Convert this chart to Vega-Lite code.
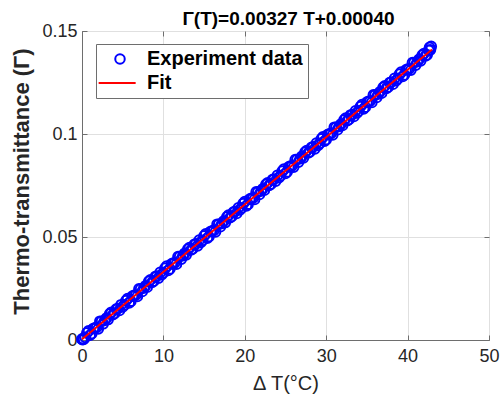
{
  "$schema": "https://vega.github.io/schema/vega-lite/v6.json",
  "width": 407,
  "height": 309,
  "autosize": {"type": "none"},
  "padding": {"left": 82, "top": 31, "right": 15, "bottom": 61},
  "background": "white",
  "config": {
    "font": "Liberation Sans",
    "view": {"stroke": "#6e6e6e", "strokeWidth": 1},
    "axis": {
      "labelFont": "Liberation Sans",
      "labelFontSize": 18,
      "labelColor": "#262626",
      "titleColor": "#262626",
      "titleFont": "Liberation Sans",
      "gridColor": "#e0e0e0",
      "gridWidth": 1,
      "domainColor": "#6e6e6e",
      "tickColor": "#6e6e6e",
      "tickSize": -5
    }
  },
  "title": {
    "text": "Γ(T)=0.00327 T+0.00040",
    "font": "Liberation Sans",
    "fontSize": 19,
    "fontWeight": "bold",
    "color": "#000000",
    "offset": -7,
    "frame": "group",
    "dx": 3
  },
  "datasets": {
    "pts": [
      {"T":0,"G":0.0004},{"T":0.05,"G":0.0002},{"T":0.1,"G":0.0007},{"T":0.2,"G":0.00035},
      {"T":0.4,"G":0.00131},{"T":0.6,"G":0.00346},{"T":0.8,"G":0.00442},{"T":1,"G":0.00237},
      {"T":1.2,"G":0.00312},{"T":1.4,"G":0.00558},{"T":1.6,"G":0.00593},{"T":1.8,"G":0.00609},
      {"T":2,"G":0.00544},{"T":2.2,"G":0.00909},{"T":2.4,"G":0.00905},{"T":2.6,"G":0.0079},
      {"T":2.8,"G":0.00956},{"T":3,"G":0.01061},{"T":3.2,"G":0.00996},{"T":3.4,"G":0.01272},
      {"T":3.6,"G":0.01347},{"T":3.8,"G":0.01233},{"T":4,"G":0.01288},{"T":4.2,"G":0.01503},
      {"T":4.4,"G":0.01529},{"T":4.6,"G":0.01434},{"T":4.8,"G":0.0171},{"T":5,"G":0.01605},
      {"T":5.2,"G":0.017},{"T":5.4,"G":0.01916},{"T":5.6,"G":0.02011},{"T":5.8,"G":0.01807},
      {"T":6,"G":0.01882},{"T":6.2,"G":0.02127},{"T":6.4,"G":0.02163},{"T":6.6,"G":0.02178},
      {"T":6.8,"G":0.02114},{"T":7,"G":0.02479},{"T":7.2,"G":0.02474},{"T":7.4,"G":0.0236},
      {"T":7.6,"G":0.02525},{"T":7.8,"G":0.02631},{"T":8,"G":0.02566},{"T":8.2,"G":0.02841},
      {"T":8.4,"G":0.02917},{"T":8.6,"G":0.02802},{"T":8.8,"G":0.02858},{"T":9,"G":0.03073},
      {"T":9.2,"G":0.03098},{"T":9.4,"G":0.03004},{"T":9.6,"G":0.03279},{"T":9.8,"G":0.03175},
      {"T":10,"G":0.0327},{"T":10.2,"G":0.03485},{"T":10.4,"G":0.03581},{"T":10.6,"G":0.03376},
      {"T":10.8,"G":0.03452},{"T":11,"G":0.03697},{"T":11.2,"G":0.03732},{"T":11.4,"G":0.03748},
      {"T":11.6,"G":0.03683},{"T":11.8,"G":0.04049},{"T":12,"G":0.04044},{"T":12.2,"G":0.03929},
      {"T":12.4,"G":0.04095},{"T":12.6,"G":0.042},{"T":12.8,"G":0.04136},{"T":13,"G":0.04411},
      {"T":13.2,"G":0.04486},{"T":13.4,"G":0.04372},{"T":13.6,"G":0.04427},{"T":13.8,"G":0.04643},
      {"T":14,"G":0.04668},{"T":14.2,"G":0.04573},{"T":14.4,"G":0.04849},{"T":14.6,"G":0.04744},
      {"T":14.8,"G":0.0484},{"T":15,"G":0.05055},{"T":15.2,"G":0.0515},{"T":15.4,"G":0.04946},
      {"T":15.6,"G":0.05021},{"T":15.8,"G":0.05267},{"T":16,"G":0.05302},{"T":16.2,"G":0.05317},
      {"T":16.4,"G":0.05253},{"T":16.6,"G":0.05618},{"T":16.8,"G":0.05614},{"T":17,"G":0.05499},
      {"T":17.2,"G":0.05664},{"T":17.4,"G":0.0577},{"T":17.6,"G":0.05705},{"T":17.8,"G":0.05981},
      {"T":18,"G":0.06056},{"T":18.2,"G":0.05941},{"T":18.4,"G":0.05997},{"T":18.6,"G":0.06212},
      {"T":18.8,"G":0.06238},{"T":19,"G":0.06143},{"T":19.2,"G":0.06418},{"T":19.4,"G":0.06314},
      {"T":19.6,"G":0.06409},{"T":19.8,"G":0.06625},{"T":20,"G":0.0672},{"T":20.2,"G":0.06515},
      {"T":20.4,"G":0.06591},{"T":20.6,"G":0.06836},{"T":20.8,"G":0.06872},{"T":21,"G":0.06887},
      {"T":21.2,"G":0.06822},{"T":21.4,"G":0.07188},{"T":21.6,"G":0.07183},{"T":21.8,"G":0.07069},
      {"T":22,"G":0.07234},{"T":22.2,"G":0.07339},{"T":22.4,"G":0.07275},{"T":22.6,"G":0.0755},
      {"T":22.8,"G":0.07626},{"T":23,"G":0.07511},{"T":23.2,"G":0.07566},{"T":23.4,"G":0.07782},
      {"T":23.6,"G":0.07807},{"T":23.8,"G":0.07713},{"T":24,"G":0.07988},{"T":24.2,"G":0.07883},
      {"T":24.4,"G":0.07979},{"T":24.6,"G":0.08194},{"T":24.8,"G":0.0829},{"T":25,"G":0.08085},
      {"T":25.2,"G":0.0816},{"T":25.4,"G":0.08406},{"T":25.6,"G":0.08441},{"T":25.8,"G":0.08457},
      {"T":26,"G":0.08392},{"T":26.2,"G":0.08757},{"T":26.4,"G":0.08753},{"T":26.6,"G":0.08638},
      {"T":26.8,"G":0.08804},{"T":27,"G":0.08909},{"T":27.2,"G":0.08844},{"T":27.4,"G":0.0912},
      {"T":27.6,"G":0.09195},{"T":27.8,"G":0.09081},{"T":28,"G":0.09136},{"T":28.2,"G":0.09351},
      {"T":28.4,"G":0.09377},{"T":28.6,"G":0.09282},{"T":28.8,"G":0.09558},{"T":29,"G":0.09453},
      {"T":29.2,"G":0.09548},{"T":29.4,"G":0.09764},{"T":29.6,"G":0.09859},{"T":29.8,"G":0.09655},
      {"T":30,"G":0.0973},{"T":30.2,"G":0.09975},{"T":30.4,"G":0.10011},{"T":30.6,"G":0.10026},
      {"T":30.8,"G":0.09962},{"T":31,"G":0.10327},{"T":31.2,"G":0.10322},{"T":31.4,"G":0.10208},
      {"T":31.6,"G":0.10373},{"T":31.8,"G":0.10479},{"T":32,"G":0.10414},{"T":32.2,"G":0.10689},
      {"T":32.4,"G":0.10765},{"T":32.6,"G":0.1065},{"T":32.8,"G":0.10706},{"T":33,"G":0.10921},
      {"T":33.2,"G":0.10946},{"T":33.4,"G":0.10852},{"T":33.6,"G":0.11127},{"T":33.8,"G":0.11023},
      {"T":34,"G":0.11118},{"T":34.2,"G":0.11333},{"T":34.4,"G":0.11429},{"T":34.6,"G":0.11224},
      {"T":34.8,"G":0.113},{"T":35,"G":0.11545},{"T":35.2,"G":0.1158},{"T":35.4,"G":0.11596},
      {"T":35.6,"G":0.11531},{"T":35.8,"G":0.11897},{"T":36,"G":0.11892},{"T":36.2,"G":0.11777},
      {"T":36.4,"G":0.11943},{"T":36.6,"G":0.12048},{"T":36.8,"G":0.11984},{"T":37,"G":0.12259},
      {"T":37.2,"G":0.12334},{"T":37.4,"G":0.1222},{"T":37.6,"G":0.12275},{"T":37.8,"G":0.12491},
      {"T":38,"G":0.12516},{"T":38.2,"G":0.12421},{"T":38.4,"G":0.12697},{"T":38.6,"G":0.12592},
      {"T":38.8,"G":0.12688},{"T":39,"G":0.12903},{"T":39.2,"G":0.12998},{"T":39.4,"G":0.12794},
      {"T":39.6,"G":0.12869},{"T":39.8,"G":0.13115},{"T":40,"G":0.1315},{"T":40.2,"G":0.13165},
      {"T":40.4,"G":0.13101},{"T":40.6,"G":0.13466},{"T":40.8,"G":0.13462},{"T":41,"G":0.13347},
      {"T":41.2,"G":0.13512},{"T":41.4,"G":0.13618},{"T":41.6,"G":0.13553},{"T":41.8,"G":0.13829},
      {"T":42,"G":0.13904},{"T":42.2,"G":0.13789},{"T":42.4,"G":0.13845},{"T":42.6,"G":0.1406},
      {"T":42.7,"G":0.142},{"T":42.8,"G":0.14086},{"T":42.9,"G":0.1425}
    ],
    "fit": [
      {"T":0,"G":0.0004},
      {"T":43,"G":0.14101}
    ]
  },
  "layer": [
    {
      "data": {"name": "pts"},
      "mark": {"type": "point", "filled": false, "size": 95, "strokeWidth": 2, "opacity": 1, "clip": false},
      "encoding": {
        "x": {
          "field": "T", "type": "quantitative",
          "scale": {"domain": [0, 50], "nice": false, "zero": false},
          "axis": {"values": [0, 10, 20, 30, 40, 50], "title": "Δ T(°C)", "titleFontSize": 20, "titleFontWeight": "normal", "titlePadding": 8, "labelPadding": 12, "grid": true, "domain": true, "labelFlush": false}
        },
        "y": {
          "field": "G", "type": "quantitative",
          "scale": {"domain": [0, 0.15], "nice": false, "zero": false},
          "axis": {"values": [0, 0.05, 0.1, 0.15], "labelExpr": "'' + datum.value", "title": "Thermo-transmittance (Γ)", "titleFontSize": 22, "titleFontWeight": "bold", "titlePadding": 8, "titleY": 150, "labelPadding": 10, "grid": true, "domain": true, "labelFlush": false}
        },
        "color": {
          "datum": "Experiment data",
          "type": "nominal",
          "scale": {"domain": ["Experiment data", "Fit"], "range": ["#0000ff", "#ff0000"]},
          "legend": {
            "title": null,
            "orient": "none",
            "legendX": 14,
            "legendY": 13,
            "fillColor": "white",
            "strokeColor": "#6e6e6e",
            "padding": 5,
            "labelFont": "Liberation Sans",
            "labelFontSize": 20,
            "labelFontWeight": "bold",
            "labelColor": "#000000",
            "labelOffset": 17,
            "rowPadding": 4,
            "symbolSize": 90,
            "symbolOffset": 9,
            "symbolStrokeWidth": 2,
            "symbolFillColor": "transparent"
          }
        },
        "shape": {
          "datum": "Experiment data",
          "type": "nominal",
          "scale": {"domain": ["Experiment data", "Fit"], "range": ["circle", "M-4.5,0L3.3,0"]}
        }
      }
    },
    {
      "data": {"name": "fit"},
      "mark": {"type": "line", "strokeWidth": 2},
      "encoding": {
        "x": {
          "field": "T", "type": "quantitative",
          "axis": {"orient": "top", "values": [0, 10, 20, 30, 40, 50], "labels": false, "title": null, "grid": false, "domain": false}
        },
        "y": {
          "field": "G", "type": "quantitative",
          "axis": {"orient": "right", "values": [0, 0.05, 0.1, 0.15], "labels": false, "title": null, "grid": false, "domain": false}
        },
        "color": {"datum": "Fit", "type": "nominal"}
      }
    }
  ],
  "resolve": {"axis": {"x": "independent", "y": "independent"}}
}
